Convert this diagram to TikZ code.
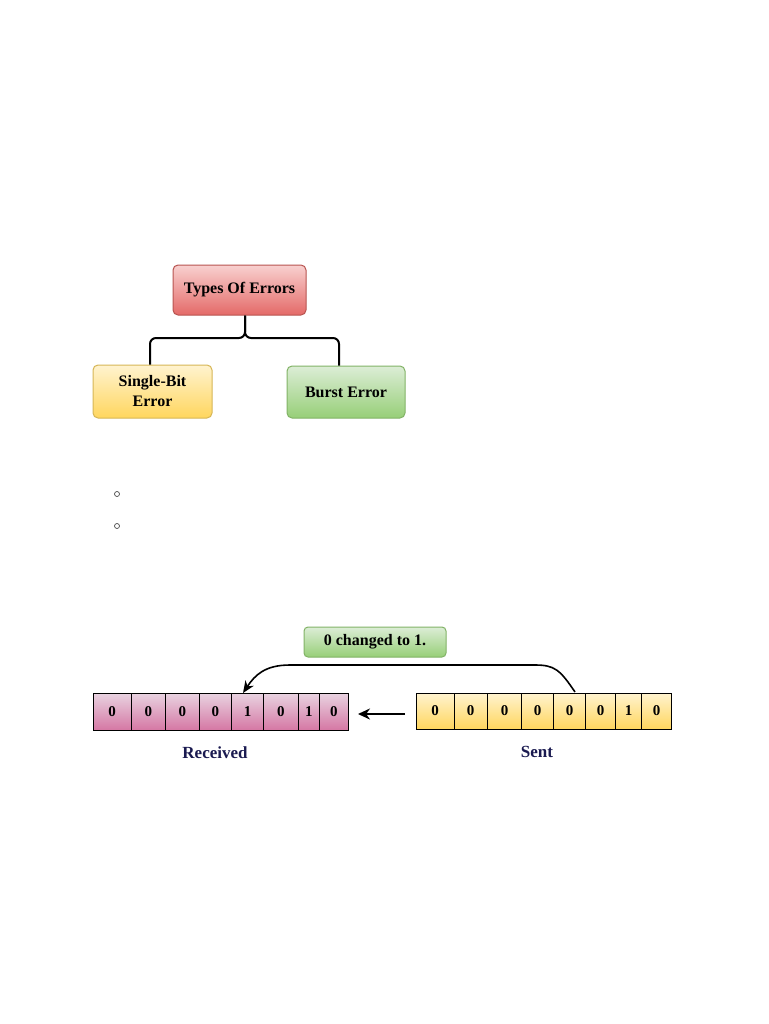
\documentclass[tikz,border=0pt]{standalone}
\usepackage{fontspec}
\setmainfont{Liberation Serif}
\usetikzlibrary{arrows.meta}
\definecolor{navy}{HTML}{1A1A50}
\definecolor{redT}{HTML}{F8D0CF}
\definecolor{redB}{HTML}{E46A68}
\definecolor{redD}{HTML}{B85450}
\definecolor{yelT}{HTML}{FFF3CF}
\definecolor{yelB}{HTML}{FFD65E}
\definecolor{yelD}{HTML}{D6B656}
\definecolor{grnT}{HTML}{DCEDD6}
\definecolor{grnB}{HTML}{97CF78}
\definecolor{grnD}{HTML}{82B366}
\definecolor{pnkT}{HTML}{E8D2E0}
\definecolor{pnkB}{HTML}{D576A3}
\definecolor{pnkD}{HTML}{996185}
\tikzset{
  x=1pt,y=-1pt,
  box/.style={rounded corners=5pt,draw,line width=1pt,font=\bfseries\fontsize{16}{20}\selectfont,align=center,inner sep=0pt},
  redbox/.style={box,draw=redD,top color=redT,bottom color=redB},
  yelbox/.style={box,draw=yelD,top color=yelT,bottom color=yelB},
  grnbox/.style={box,draw=grnD,top color=grnT,bottom color=grnB},
  rcell/.style={draw=black,line width=0.8pt,top color=pnkT,bottom color=pnkB,inner sep=0pt,font=\bfseries\fontsize{15}{16}\selectfont},
  scell/.style={draw=black,line width=0.8pt,top color=yelT,bottom color=yelB,inner sep=0pt,font=\bfseries\fontsize{15}{16}\selectfont},
  conn/.style={line width=2pt,rounded corners=6pt},
  lbl/.style={text=navy,font=\bfseries\fontsize{17}{18}\selectfont},
  bul/.style={circle,draw=black!70,line width=0.7pt,minimum size=5pt,inner sep=0pt}
}
\begin{document}
\begin{tikzpicture}
\useasboundingbox (0,0) rectangle (768,1024);
\fill[white] (0,0) rectangle (768,1024);
% tree
\node[redbox,minimum width=133pt,minimum height=50pt] (types) at (239.5,290) {Types Of Errors};
\node[yelbox,minimum width=119pt,minimum height=53pt] (single) at (152.5,391.5) {Single-Bit\\Error};
\node[grnbox,minimum width=118pt,minimum height=52pt] (burst) at (346,392) {Burst Error};
\coordinate (mid) at (245,338);
\coordinate (lt) at (150,338);
\coordinate (rt) at (339,338);
\draw[conn] (types.south -| mid) -- (mid) -- (lt) -- (lt |- single.north);
\draw[conn] (types.south -| mid) -- (mid) -- (rt) -- (rt |- burst.north);
% bullets
\node[bul] (b1) at (117,494) {};
\node[bul] (b2) at (117,526) {};
% arrays
\foreach \i/\a/\b/\v in {1/93/131/0,2/131/165.7/0,3/165.7/199/0,4/199/231.7/0,5/231.7/263.3/1,6/263.3/298.3/0,7/298.3/319.3/1,8/319.3/348.3/0}{
  \node[rcell,minimum width={\b-\a},minimum height=37pt] (r\i) at ({(\a+\b)/2},712) {\v};
}
\foreach \i/\a/\b/\v in {1/416/454/0,2/454/487.3/0,3/487.3/521.7/0,4/521.7/553.3/0,5/553.3/585.7/0,6/585.7/615.7/0,7/615.7/641.7/1,8/641.7/671.7/0}{
  \node[scell,minimum width={\b-\a},minimum height=36pt] (s\i) at ({(\a+\b)/2},711) {\v};
}
\node[lbl] (recv) at (215,753) {Received};
\node[lbl] (sent) at (537,752) {Sent};
\coordinate (aS) at (405,714);
\coordinate (aE) at (358,714);
\draw[line width=2.4pt,-{Stealth[length=12pt,width=11pt]}] (aS) -- (aE);
\node[grnbox,minimum width=142pt,minimum height=30pt,rounded corners=4pt] (chg) at (375,642) {0 changed to 1.};
\coordinate (cS) at (575,692);
\coordinate (cE) at (243,693);
\draw[line width=1.6pt,-{Stealth[length=12pt,width=10pt]}] (cS) .. controls (560,670) and (555,665) .. (535,665) -- (290,665) .. controls (265,665) and (255,675) .. (cE);
\end{tikzpicture}
\end{document}
